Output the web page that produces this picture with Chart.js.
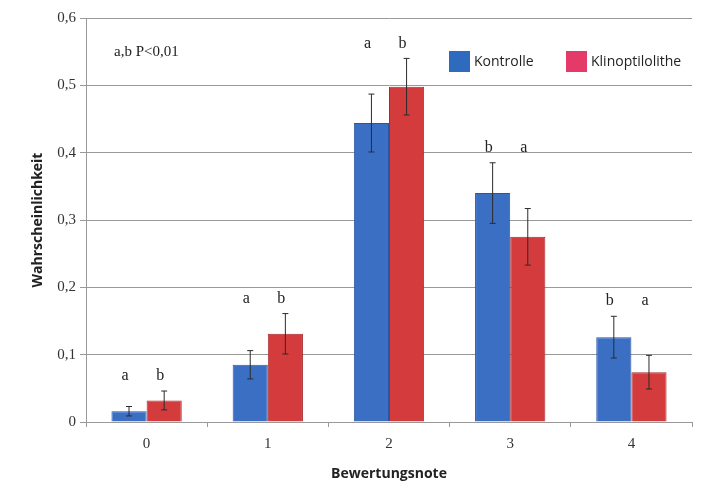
<!DOCTYPE html>
<html>
<head>
<meta charset="utf-8">
<script src="https://cdn.jsdelivr.net/npm/chart.js@4.4.0/dist/chart.umd.min.js"></script>
<style>
	html, body { margin: 0; padding: 0; background: #fff; }
	#wrap { width: 705px; height: 486px; position: relative; }
</style>
</head>
<body>
<div id="wrap"><canvas id="grafico"></canvas></div>
<script>
const noten = ['0', '1', '2', '3', '4'];
const kontrolle = [0.016, 0.085, 0.444, 0.340, 0.126];
const kontrolleFehler = [0.007, 0.021, 0.043, 0.045, 0.031];
const klino = [0.032, 0.131, 0.498, 0.275, 0.074];
const klinoFehler = [0.014, 0.030, 0.042, 0.042, 0.025];
const kontrolleBuchst = ['a', 'a', 'a', 'b', 'b'];
const klinoBuchst = ['b', 'b', 'b', 'a', 'a'];
const yTicks = [0, 0.1, 0.2, 0.3, 0.4, 0.5, 0.6];

const serif = '"Liberation Serif", "DejaVu Serif", serif';
const sans = '"Open Sans", "Liberation Sans", sans-serif';

const fehlerPlugin = {
	id: 'fehler',
	afterDatasetsDraw(chart) {
		const ctx = chart.ctx;
		const y = chart.scales.y;
		const fehler = [kontrolleFehler, klinoFehler];
		const buchst = [kontrolleBuchst, klinoBuchst];
		const topPerCat = noten.map(() => Infinity);
		ctx.save();
		chart.data.datasets.forEach((ds, di) => {
			const meta = chart.getDatasetMeta(di);
			meta.data.forEach((bar, i) => {
				const v = ds.data[i];
				const e = fehler[di][i];
				const yTop = y.getPixelForValue(v + e);
				const yBot = y.getPixelForValue(Math.max(0, v - e));
				topPerCat[i] = Math.min(topPerCat[i], yTop);
				ctx.strokeStyle = '#2b2b2b';
				ctx.lineWidth = 1;
				ctx.beginPath();
				ctx.moveTo(bar.x, yTop);
				ctx.lineTo(bar.x, yBot);
				ctx.moveTo(bar.x - 3, yTop);
				ctx.lineTo(bar.x + 3, yTop);
				ctx.moveTo(bar.x - 3, yBot);
				ctx.lineTo(bar.x + 3, yBot);
				ctx.stroke();
			});
		});
		ctx.fillStyle = '#222';
		ctx.font = '16px ' + serif;
		ctx.textAlign = 'center';
		ctx.textBaseline = 'middle';
		chart.data.datasets.forEach((ds, di) => {
			const meta = chart.getDatasetMeta(di);
			meta.data.forEach((bar, i) => {
				ctx.fillText(buchst[di][i], bar.x - 4, topPerCat[i] - 15);
			});
		});
		// Signifikanz-Hinweis
		ctx.textAlign = 'left';
		ctx.font = '15px ' + serif;
		ctx.fillText('a,b P<0,01', 114, 52);
		// Legende
		const leg = [['Kontrolle', '#2e6bbf', 449], ['Klinoptilolithe', '#e33a6a', 566]];
		ctx.font = '14px ' + sans;
		leg.forEach(([txt, col, x]) => {
			ctx.fillStyle = col;
			ctx.fillRect(x, 51, 21, 21);
			ctx.fillStyle = '#222';
			ctx.fillText(txt, x + 25, 62);
		});
		ctx.restore();
	}
};

new Chart(document.getElementById('grafico'), {
	type: 'bar',
	data: {
		labels: noten,
		datasets: [{
			label: 'Kontrolle',
			data: kontrolle,
			backgroundColor: '#3b6fc4',
			borderColor: '#2a56a2',
			borderWidth: 1,
			categoryPercentage: 0.58,
			barPercentage: 1
		}, {
			label: 'Klinoptilolithe',
			data: klino,
			backgroundColor: '#d33b3c',
			borderColor: '#a62b2c',
			borderWidth: 1,
			categoryPercentage: 0.58,
			barPercentage: 1
		}]
	},
	options: {
		responsive: true,
		maintainAspectRatio: false,
		animation: false,
		layout: { padding: { top: 18, right: 13, left: 26, bottom: 0 } },
		scales: {
			x: {
				grid: { drawOnChartArea: false, drawTicks: true, tickLength: 5, color: '#999' },
				border: { color: '#999' },
				ticks: { color: '#333', font: { family: serif, size: 15 }, padding: 8 },
				title: { display: true, text: 'Bewertungsnote', color: '#222', font: { family: sans, size: 14, weight: 'bold' }, padding: { top: 8 } },
				afterFit: (scale) => { scale.height = 64; }
			},
			y: {
				min: 0,
				max: 0.6,
				afterBuildTicks: (scale) => { scale.ticks = yTicks.map(v => ({ value: v })); },
				grid: { color: '#999', tickLength: 6 },
				border: { color: '#999' },
				ticks: {
					color: '#333',
					font: { family: serif, size: 15 },
					padding: 4,
					callback: (v) => v === 0 ? '0' : v.toFixed(1).replace('.', ',')
				},
				title: { display: true, text: 'Wahrscheinlichkeit', color: '#222', font: { family: sans, size: 14, weight: 'bold' }, padding: { bottom: 0 } },
				afterFit: (scale) => { scale.width = 60; }
			}
		},
		plugins: {
			legend: { display: false },
			tooltip: { enabled: false }
		}
	},
	plugins: [fehlerPlugin]
});
</script>
</body>
</html>
